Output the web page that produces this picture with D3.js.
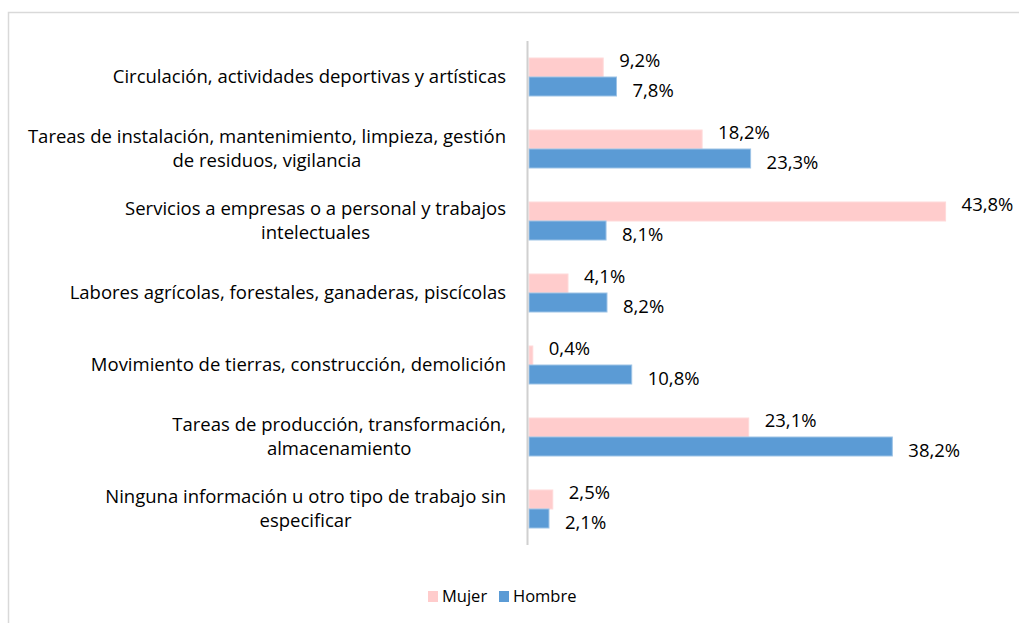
<!DOCTYPE html>
<html>
<head>
<meta charset="utf-8">
<script src="https://cdn.jsdelivr.net/npm/d3@7"></script>
<style>
  body { margin: 0; background: #fff; }
  text { font-family: "Open Sans", Lato, sans-serif; fill: #000; }
</style>
</head>
<body>
<div id="chart"></div>
<script>
// Category labels, one array entry per line
const categories = [
    ["Circulación, actividades deportivas y artísticas"],
    ["Tareas de instalación, mantenimiento, limpieza, gestión", "de residuos, vigilancia"],
    ["Servicios a empresas o a personal y trabajos", "intelectuales"],
    ["Labores agrícolas, forestales, ganaderas, piscícolas"],
    ["Movimiento de tierras, construcción, demolición"],
    ["Tareas de producción, transformación,", "almacenamiento"],
    ["Ninguna información u otro tipo de trabajo sin", "especificar"]
];

const series = ["Mujer", "Hombre"];

// bar lengths as drawn (%)
const mujerValues = [7.8, 18.2, 43.8, 4.1, 0.4, 23.1, 2.5];
const hombreValues = [9.2, 23.3, 8.1, 8.2, 10.8, 38.2, 2.1];

// data labels as printed on the chart
const mujerLabels = ["9,2%", "18,2%", "43,8%", "4,1%", "0,4%", "23,1%", "2,5%"];
const hombreLabels = ["7,8%", "23,3%", "8,1%", "8,2%", "10,8%", "38,2%", "2,1%"];

const colors = { Mujer: "#FFCCCC", Hombre: "#5B9BD5" };
const strokes = { Mujer: "#FFD9D9", Hombre: "#9DC3E6" };

const W = 1019, H = 623;
const fontSize = "18.5px";

const svg = d3.select("#chart").append("svg")
    .attr("width", W)
    .attr("height", H);

// chart area border
svg.append("rect")
    .attr("x", 8.5)
    .attr("y", 12.5)
    .attr("width", W + 20)
    .attr("height", H + 20)
    .attr("fill", "none")
    .attr("stroke", "#D9D9D9")
    .attr("stroke-width", 1.5);

// scales
const keys = categories.map((c, i) => i);

const x = d3.scaleLinear()
    .domain([0, 45])
    .range([529, 957]);

const y = d3.scaleBand()
    .domain(keys)
    .range([41, 545]);

const barH = 19;
const y1 = d3.scaleBand()
    .domain(series)
    .range([(y.bandwidth() - 2 * barH) / 2, (y.bandwidth() + 2 * barH) / 2]);

const rows = keys.map(i => ({
    i: i,
    lines: categories[i],
    vals: [
        { s: "Mujer", v: mujerValues[i], label: mujerLabels[i] },
        { s: "Hombre", v: hombreValues[i], label: hombreLabels[i] }
    ]
}));

// bars
const groups = svg.selectAll(".cat")
    .data(rows)
    .enter().append("g")
    .attr("class", "cat")
    .attr("transform", d => "translate(0," + y(d.i) + ")");

groups.selectAll("rect")
    .data(d => d.vals)
    .enter().append("rect")
    .attr("x", x(0))
    .attr("y", d => y1(d.s))
    .attr("width", d => x(d.v) - x(0))
    .attr("height", y1.bandwidth())
    .attr("fill", d => colors[d.s])
    .attr("stroke", d => strokes[d.s])
    .attr("stroke-width", 1);

// data labels: Mujer above its bar, Hombre below
const mid = y.bandwidth() / 2;
groups.selectAll(".lbl")
    .data(d => d.vals)
    .enter().append("text")
    .attr("class", "lbl")
    .attr("x", d => x(d.v) + 16)
    .attr("y", d => d.s === "Mujer" ? mid - 10 : mid + 20)
    .style("font-size", fontSize)
    .text(d => d.label);

// vertical axis line
svg.append("line")
    .attr("x1", 527.5)
    .attr("x2", 527.5)
    .attr("y1", y.range()[0])
    .attr("y2", y.range()[1])
    .attr("stroke", "#D0D0D0")
    .attr("stroke-width", 2);

// category labels (multi-line, centered block, right aligned to axis)
const lineH = 24;
groups.each(function (d) {
    const g = d3.select(this);
    const t = g.append("text")
        .style("font-size", fontSize)
        .attr("text-anchor", "middle");
    const n = d.lines.length;
    d.lines.forEach((ln, k) => {
        t.append("tspan")
            .attr("y", mid + 6 + (k - (n - 1) / 2) * lineH)
            .text(ln);
    });
    // measure widest line, then center all lines in that block
    let maxW = 0;
    t.selectAll("tspan").each(function () {
        maxW = Math.max(maxW, this.getComputedTextLength());
    });
    t.selectAll("tspan").attr("x", 506 - maxW / 2);
});

// legend
const legend = svg.append("g")
    .attr("transform", "translate(428,602)");

const legItems = legend.selectAll("g")
    .data(series)
    .enter().append("g")
    .attr("transform", (d, i) => "translate(" + (i * 71) + ",0)");

legItems.append("rect")
    .attr("x", 0)
    .attr("y", -11)
    .attr("width", 10)
    .attr("height", 11)
    .attr("fill", d => colors[d]);

legItems.append("text")
    .attr("x", 14)
    .attr("y", 0)
    .style("font-size", "16.5px")
    .text(d => d);
</script>
</body>
</html>
